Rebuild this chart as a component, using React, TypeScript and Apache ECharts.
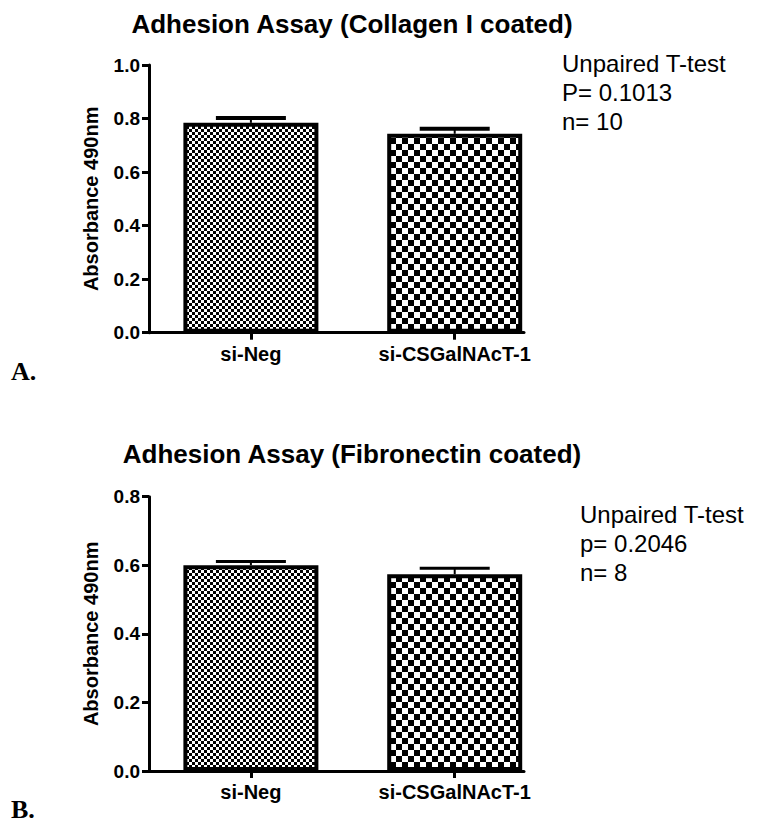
import React, { useEffect, useRef } from 'react';
import * as echarts from 'echarts';

// ---------- data ----------
const categories = ['si-Neg', 'si-CSGalNAcT-1'];
const collagenMeans = [0.784, 0.743];
const collagenSEM = [0.018, 0.019];
const fibronectinMeans = [0.6, 0.574];
const fibronectinSEM = [0.011, 0.017];
const collagenYMax = 1.0;
const fibronectinYMax = 0.8;
const yTickStep = 0.2;
const titles = ['Adhesion Assay (Collagen I coated)', 'Adhesion Assay (Fibronectin coated)'];
const statsA = ['Unpaired T-test', 'P= 0.1013', 'n= 10'];
const statsB = ['Unpaired T-test', 'p= 0.2046', 'n= 8'];
const panelLabels = ['A.', 'B.'];
const yAxisName = 'Absorbance 490nm';

const SANS = '"Liberation Sans", Arial, Helvetica, sans-serif';
const SERIF = '"Liberation Serif", "Times New Roman", serif';

function checker(cell: number) {
  const c = document.createElement('canvas');
  c.width = cell * 2;
  c.height = cell * 2;
  const ctx = c.getContext('2d')!;
  ctx.fillStyle = '#ffffff';
  ctx.fillRect(0, 0, cell * 2, cell * 2);
  ctx.fillStyle = '#000000';
  ctx.fillRect(0, 0, cell, cell);
  ctx.fillRect(cell, cell, cell, cell);
  return { image: c, repeat: 'repeat', imageWidth: cell * 2, imageHeight: cell * 2 } as any;
}

export default function App() {
  const ref = useRef<HTMLDivElement>(null);
  useEffect(() => {
    if (!ref.current) return;
    const chart = echarts.init(ref.current, null, { renderer: 'svg' });
    const patterns = [checker(3), checker(6)];

    const grids = [
      { left: 149, top: 65, width: 375, height: 267.7 },
      { left: 149, top: 496.7, width: 375, height: 274.3 },
    ];
    const maxes = [collagenYMax, fibronectinYMax];
    const meansList = [collagenMeans, fibronectinMeans];
    const semList = [collagenSEM, fibronectinSEM];
    const capWidths = [4, 3];

    const xAxes = grids.map((_, gi) => ({
      type: 'value',
      gridIndex: gi,
      min: -0.5,
      max: 1.34,
      splitLine: { show: false },
      axisLine: { show: true, onZero: false, lineStyle: { color: '#000', width: 3 } },
      axisTick: { show: true, customValues: [0, 1], length: 7, lineStyle: { color: '#000', width: 3 } },
      axisLabel: {
        customValues: [0, 1],
        formatter: (v: number) => categories[Math.round(v)] ?? '',
        color: '#000',
        fontFamily: SANS,
        fontWeight: 'bold',
        fontSize: 20,
        margin: 11,
      },
    }));

    const yAxes = grids.map((_, gi) => ({
      type: 'value',
      gridIndex: gi,
      min: 0,
      max: maxes[gi],
      interval: yTickStep,
      splitLine: { show: false },
      axisLine: { show: true, onZero: false, lineStyle: { color: '#000', width: 3 } },
      axisTick: { show: true, length: 7, lineStyle: { color: '#000', width: 3 } },
      axisLabel: {
        formatter: (v: number) => v.toFixed(1),
        color: '#000',
        fontFamily: SANS,
        fontWeight: 'bold',
        fontSize: 19,
        margin: 9,
      },
      name: yAxisName,
      nameLocation: 'middle',
      nameRotate: 90,
      nameGap: 48,
      nameTextStyle: { color: '#000', fontFamily: SANS, fontWeight: 'bold', fontSize: 20 },
    }));

    const series: any[] = [];
    grids.forEach((_, gi) => {
      series.push({
        type: 'bar',
        xAxisIndex: gi,
        yAxisIndex: gi,
        barWidth: 135,
        data: meansList[gi].map((v, i) => ({
          value: [i, v],
          itemStyle: { color: patterns[i], borderColor: '#000', borderWidth: 4 },
        })),
      });
      const capW = capWidths[gi];
      series.push({
        type: 'custom',
        xAxisIndex: gi,
        yAxisIndex: gi,
        z: 5,
        encode: { x: 0, y: 1 },
        data: meansList[gi].map((v, i) => [i, v, semList[gi][i]]),
        renderItem: (params: any, api: any) => {
          const x = api.value(0);
          const y = api.value(1);
          const e = api.value(2);
          const base = api.coord([x, y]);
          const top = api.coord([x, y + e]);
          const half = 35;
          return {
            type: 'group',
            children: [
              { type: 'line', shape: { x1: base[0], y1: base[1], x2: top[0], y2: top[1] }, style: { stroke: '#000', lineWidth: 2 } },
              { type: 'line', shape: { x1: top[0] - half, y1: top[1], x2: top[0] + half, y2: top[1] }, style: { stroke: '#000', lineWidth: capW } },
            ],
          };
        },
      });
    });

    const statText = (lines: string[], x: number, ys: number[]) =>
      lines.map((t, i) => ({
        type: 'text',
        x,
        y: ys[i],
        style: { text: t, fill: '#000', font: `24px ${SANS}`, textAlign: 'left', textVerticalAlign: 'middle' },
      }));

    const graphic: any[] = [
      { type: 'text', x: 352, y: 24.2, style: { text: titles[0], fill: '#000', font: `bold 26px ${SANS}`, textAlign: 'center', textVerticalAlign: 'middle' } },
      { type: 'text', x: 352, y: 454, style: { text: titles[1], fill: '#000', font: `bold 26px ${SANS}`, textAlign: 'center', textVerticalAlign: 'middle' } },
      ...statText(statsA, 562, [63.3, 92.6, 121.6]),
      ...statText(statsB, 580, [514.9, 543.3, 572.6]),
      { type: 'text', x: 11, y: 371, style: { text: panelLabels[0], fill: '#000', font: `bold 26px ${SERIF}`, textAlign: 'left', textVerticalAlign: 'middle' } },
      { type: 'text', x: 11, y: 809, style: { text: panelLabels[1], fill: '#000', font: `bold 26px ${SERIF}`, textAlign: 'left', textVerticalAlign: 'middle' } },
    ];

    chart.setOption({
      animation: false,
      backgroundColor: '#fff',
      grid: grids,
      xAxis: xAxes,
      yAxis: yAxes,
      series,
      graphic,
    } as any);
    return () => chart.dispose();
  }, []);
  return <div ref={ref} style={{ position: 'fixed', left: 0, top: 0, width: 759, height: 823 }} />;
}
